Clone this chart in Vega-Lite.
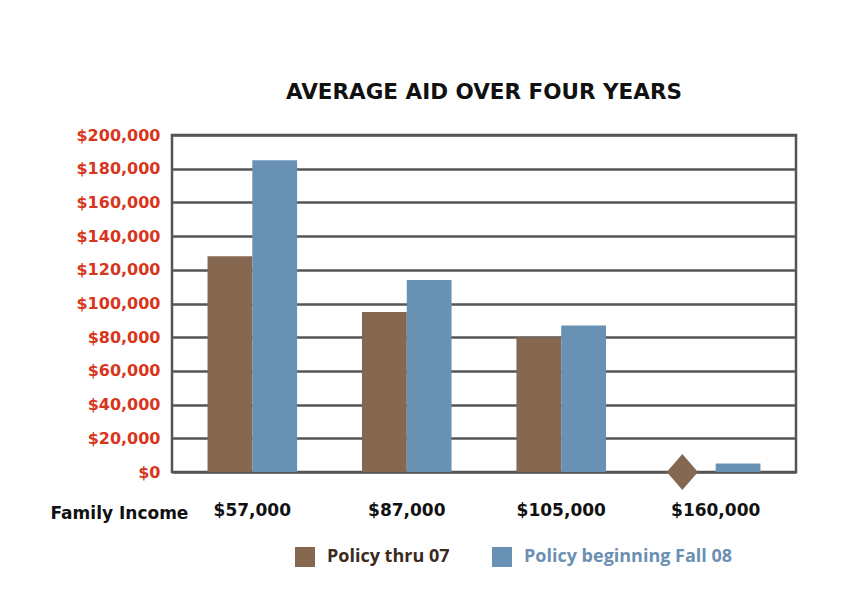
{
  "$schema": "https://vega.github.io/schema/vega-lite/v6.json",
  "width": 624,
  "height": 337,
  "autosize": {"type": "none"},
  "padding": {"left": 172, "top": 135, "right": 58, "bottom": 127},
  "background": "#ffffff",
  "title": {
    "text": "AVERAGE AID OVER FOUR YEARS",
    "font": "DejaVu Sans",
    "fontSize": 21.5,
    "fontWeight": "bold",
    "color": "#111111",
    "offset": 24,
    "anchor": "middle"
  },
  "data": {
    "values": [
      {"income": "$57,000", "policy": "Policy thru 07", "aid": 128000},
      {"income": "$57,000", "policy": "Policy beginning Fall 08", "aid": 185000},
      {"income": "$87,000", "policy": "Policy thru 07", "aid": 95000},
      {"income": "$87,000", "policy": "Policy beginning Fall 08", "aid": 114000},
      {"income": "$105,000", "policy": "Policy thru 07", "aid": 80000},
      {"income": "$105,000", "policy": "Policy beginning Fall 08", "aid": 87000},
      {"income": "$160,000", "policy": "Policy thru 07", "aid": 0},
      {"income": "$160,000", "policy": "Policy beginning Fall 08", "aid": 5000}
    ]
  },
  "encoding": {
    "x": {
      "field": "income",
      "type": "nominal",
      "sort": ["$57,000", "$87,000", "$105,000", "$160,000"],
      "scale": {"paddingInner": 0.42, "paddingOuter": 0.23},
      "axis": {
        "title": "Family Income",
        "titleFont": "DejaVu Sans",
        "titleFontSize": 17,
        "titleFontWeight": "bold",
        "titleColor": "#111111",
        "titleAlign": "left",
        "titleAnchor": "start",
        "titleBaseline": "alphabetic",
        "titleX": -122,
        "titleY": 46,
        "labelAngle": 0,
        "labelFont": "DejaVu Sans",
        "labelFontSize": 17,
        "labelFontWeight": "bold",
        "labelColor": "#111111",
        "labelPadding": 30,
        "ticks": false,
        "domain": false,
        "grid": false
      }
    },
    "xOffset": {
      "field": "policy",
      "type": "nominal",
      "sort": ["Policy thru 07", "Policy beginning Fall 08"],
      "scale": {"paddingInner": 0, "paddingOuter": 0}
    },
    "y": {
      "field": "aid",
      "type": "quantitative",
      "scale": {"domain": [0, 200000], "nice": false},
      "axis": {
        "title": null,
        "values": [0, 20000, 40000, 60000, 80000, 100000, 120000, 140000, 160000, 180000, 200000],
        "format": "$,.0f",
        "labelFont": "DejaVu Sans",
        "labelFontSize": 16,
        "labelFontWeight": "bold",
        "labelColor": "#d8361c",
        "labelPadding": 12,
        "ticks": false,
        "domain": false,
        "grid": true,
        "gridColor": "#555555",
        "gridWidth": 2.5,
        "gridOpacity": 1
      }
    }
  },
  "layer": [
    {
      "mark": {"type": "bar"},
      "encoding": {
        "color": {
          "field": "policy",
          "type": "nominal",
          "sort": ["Policy thru 07", "Policy beginning Fall 08"],
          "scale": {
            "domain": ["Policy thru 07", "Policy beginning Fall 08"],
            "range": ["#866750", "#6891b3"]
          },
          "legend": {
            "title": null,
            "orient": "none",
            "direction": "horizontal",
            "legendX": 123,
            "legendY": 412,
            "padding": 0,
            "symbolType": "square",
            "symbolSize": 400,
            "symbolStrokeWidth": 0,
            "labelFont": "Open Sans",
            "labelFontSize": 18,
            "labelFontWeight": "bold",
            "labelOffset": 12,
            "labelLimit": 400,
            "columnPadding": 42,
            "encode": {
              "labels": {
                "update": {
                  "fill": {"signal": "datum.label === 'Policy thru 07' ? '#3b2a1e' : '#6b90b3'"}
                }
              }
            }
          }
        }
      }
    },
    {
      "transform": [{"filter": "datum.aid === 0"}],
      "mark": {"type": "point", "shape": "M-1.6,0L-0.66,-1.08L0.28,0L-0.66,1.08Z", "filled": true, "size": 1100, "color": "#866750", "opacity": 1}
    }
  ],
  "config": {
    "view": {"stroke": "#555555", "strokeWidth": 2.5}
  }
}
